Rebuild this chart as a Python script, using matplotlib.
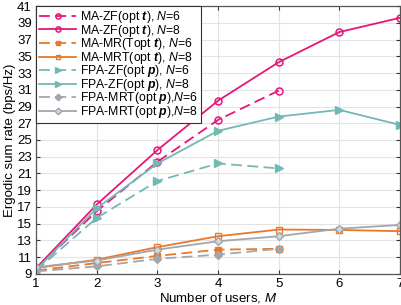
import matplotlib
matplotlib.use("Agg")
import matplotlib.pyplot as plt

plt.rcParams['font.family'] = ['Liberation Sans', 'DejaVu Sans']
plt.rcParams['mathtext.fontset'] = 'custom'
plt.rcParams['mathtext.it'] = 'Liberation Sans:italic'
plt.rcParams['mathtext.bf'] = 'Liberation Sans:bold'
plt.rcParams['mathtext.bfit'] = 'Liberation Sans:bold:italic'
plt.rcParams['mathtext.rm'] = 'Liberation Sans'

# number of users
users_n6 = [1, 2, 3, 4, 5]
users_n8 = [1, 2, 3, 4, 5, 6, 7]

# ergodic sum rate (bps/Hz)
ma_zf_n6 = [9.6, 16.5, 22.4, 27.4, 30.9]
ma_zf_n8 = [9.7, 17.3, 23.8, 29.7, 34.3, 37.9, 39.6]
ma_mr_n6 = [9.4, 10.3, 11.15, 11.9, 12.0]
ma_mrt_n8 = [9.7, 10.7, 12.2, 13.5, 14.3, 14.25, 14.1]
fpa_zf_n6 = [9.4, 15.7, 20.1, 22.2, 21.6]
fpa_zf_n8 = [9.5, 16.85, 22.2, 26.1, 27.8, 28.6, 26.8]
fpa_mrt_n6 = [9.3, 9.9, 10.8, 11.3, 12.0]
fpa_mrt_n8 = [9.8, 10.6, 11.9, 12.9, 13.5, 14.4, 14.85]

pink = "#E5177B"
orange = "#E8782A"
teal = "#72B9B6"
gray = "#A3A6AC"
dash = (0, (6, 3))

fig = plt.figure(figsize=(4.02, 3.05), dpi=100)
ax = fig.add_axes([0.09, 0.102, 0.905, 0.878])

ax.plot(users_n6, ma_zf_n6, color=pink, ls=dash, lw=1.3, marker='o', ms=5,
        mfc='none', mew=1.1, label=r"MA-ZF(opt $\boldsymbol{t}$), $\mathit{N}$=$\mathit{6}$")
ax.plot(users_n8, ma_zf_n8, color=pink, ls='-', lw=1.3, marker='o', ms=5,
        mfc='none', mew=1.1, label=r"MA-ZF(opt $\boldsymbol{t}$), $\mathit{N}$=$\mathit{8}$")
ax.plot(users_n6, ma_mr_n6, color=orange, ls=dash, lw=1.3, marker='s', ms=4.5,
        mfc=orange, mew=1.0, label=r"MA-MR(Topt $\boldsymbol{t}$), $\mathit{N}$=$\mathit{6}$")
ax.plot(users_n8, ma_mrt_n8, color=orange, ls='-', lw=1.3, marker='s', ms=4.5,
        mfc='none', mew=1.0, label=r"MA-MRT(opt $\boldsymbol{t}$), $\mathit{N}$=$\mathit{8}$")
ax.plot(users_n6, fpa_zf_n6, color=teal, ls=dash, lw=1.3, marker='>', ms=6,
        mfc=teal, mew=1.0, label=r"FPA-ZF(opt $\boldsymbol{p}$), $\mathit{N}$=$\mathit{6}$")
ax.plot(users_n8, fpa_zf_n8, color=teal, ls='-', lw=1.3, marker='>', ms=6,
        mfc=teal, mew=1.0, label=r"FPA-ZF(opt $\boldsymbol{p}$), $\mathit{N}$=$\mathit{8}$")
ax.plot(users_n6, fpa_mrt_n6, color=gray, ls=dash, lw=1.3, marker='D', ms=4.5,
        mfc=gray, mew=1.0, label=r"FPA-MRT(opt $\boldsymbol{p}$),$\mathit{N}$=$\mathit{6}$")
ax.plot(users_n8, fpa_mrt_n8, color=gray, ls='-', lw=1.3, marker='D', ms=4.5,
        mfc='#D5D7DA', mew=1.0, label=r"FPA-MRT(opt $\boldsymbol{p}$),$\mathit{N}$=$\mathit{8}$")

ax.set_xlim(1, 7)
ax.set_ylim(9, 41)
ax.set_xticks(range(1, 8))
ax.set_yticks(range(9, 42, 2))
ax.grid(True, color='#E3E3E3', lw=0.8)
ax.tick_params(direction='in', top=True, right=True, labelsize=9.5, length=3,
               color='#333333', pad=3)
for s in ax.spines.values():
    s.set_color('#555555')
    s.set_linewidth(0.9)

ax.set_xlabel(r"Number of users, $M$", fontsize=9.5, labelpad=1)
ax.set_ylabel("Ergodic sum rate (bps/Hz)", fontsize=9.5, labelpad=1)

leg = ax.legend(loc='upper left', fontsize=8.8, frameon=True, fancybox=False,
                edgecolor='#333333', borderpad=0.25, labelspacing=-0.2,
                handlelength=3.0, handletextpad=0.3, borderaxespad=0.0,
                markerscale=0.75, framealpha=1)
leg.get_frame().set_linewidth(0.8)

fig.savefig("out.png", dpi=100)
